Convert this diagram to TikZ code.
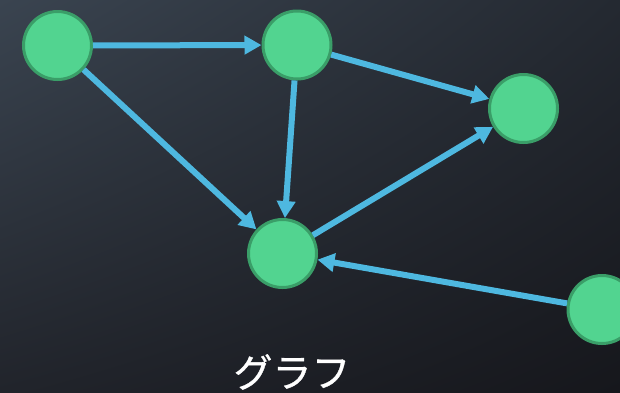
\documentclass[tikz,border=0pt]{standalone}
\usepackage{fontspec}
\newfontfamily\cjk[FakeBold=0.8]{Noto Sans CJK JP}
\usetikzlibrary{arrows.meta,shadings}
\definecolor{bgul}{RGB}{58,68,80}
\definecolor{bgur}{RGB}{36,41,49}
\definecolor{bgll}{RGB}{33,36,43}
\definecolor{bglr}{RGB}{22,23,28}
\definecolor{nodefill}{RGB}{82,212,144}
\definecolor{nodeedge}{RGB}{58,158,104}
\definecolor{edgecol}{RGB}{78,184,224}
\tikzset{
  vert/.style={circle, fill=nodefill, draw=nodeedge, line width=3pt, minimum size=68pt, inner sep=0pt},
  link/.style={draw=edgecol, line width=6pt, -{Triangle[length=17pt,width=18pt]}},
}
\begin{document}
\begin{tikzpicture}[x=1pt,y=-1pt]
\shade[upper left=bgul, upper right=bgur, lower left=bgll, lower right=bglr] (0,0) rectangle (620,392);
\useasboundingbox (0,0) rectangle (620,392);
\node[vert] (a) at (57.5,45.5) {};
\node[vert] (b) at (297,45) {};
\node[vert] (c) at (523.5,108.5) {};
\node[vert] (d) at (282.5,253.5) {};
\node[vert] (e) at (602,309.5) {};
\draw[link] (a) -- (b);
\draw[link] (a) -- (d);
\draw[link] (b) -- (d);
\draw[link] (b) -- (c);
\draw[link] (d) -- (c);
\draw[link] (e) -- (d);
\node[text=white, font=\cjk\fontsize{39}{41}\selectfont] (t) at (292,372) {グラフ};
\end{tikzpicture}
\end{document}
